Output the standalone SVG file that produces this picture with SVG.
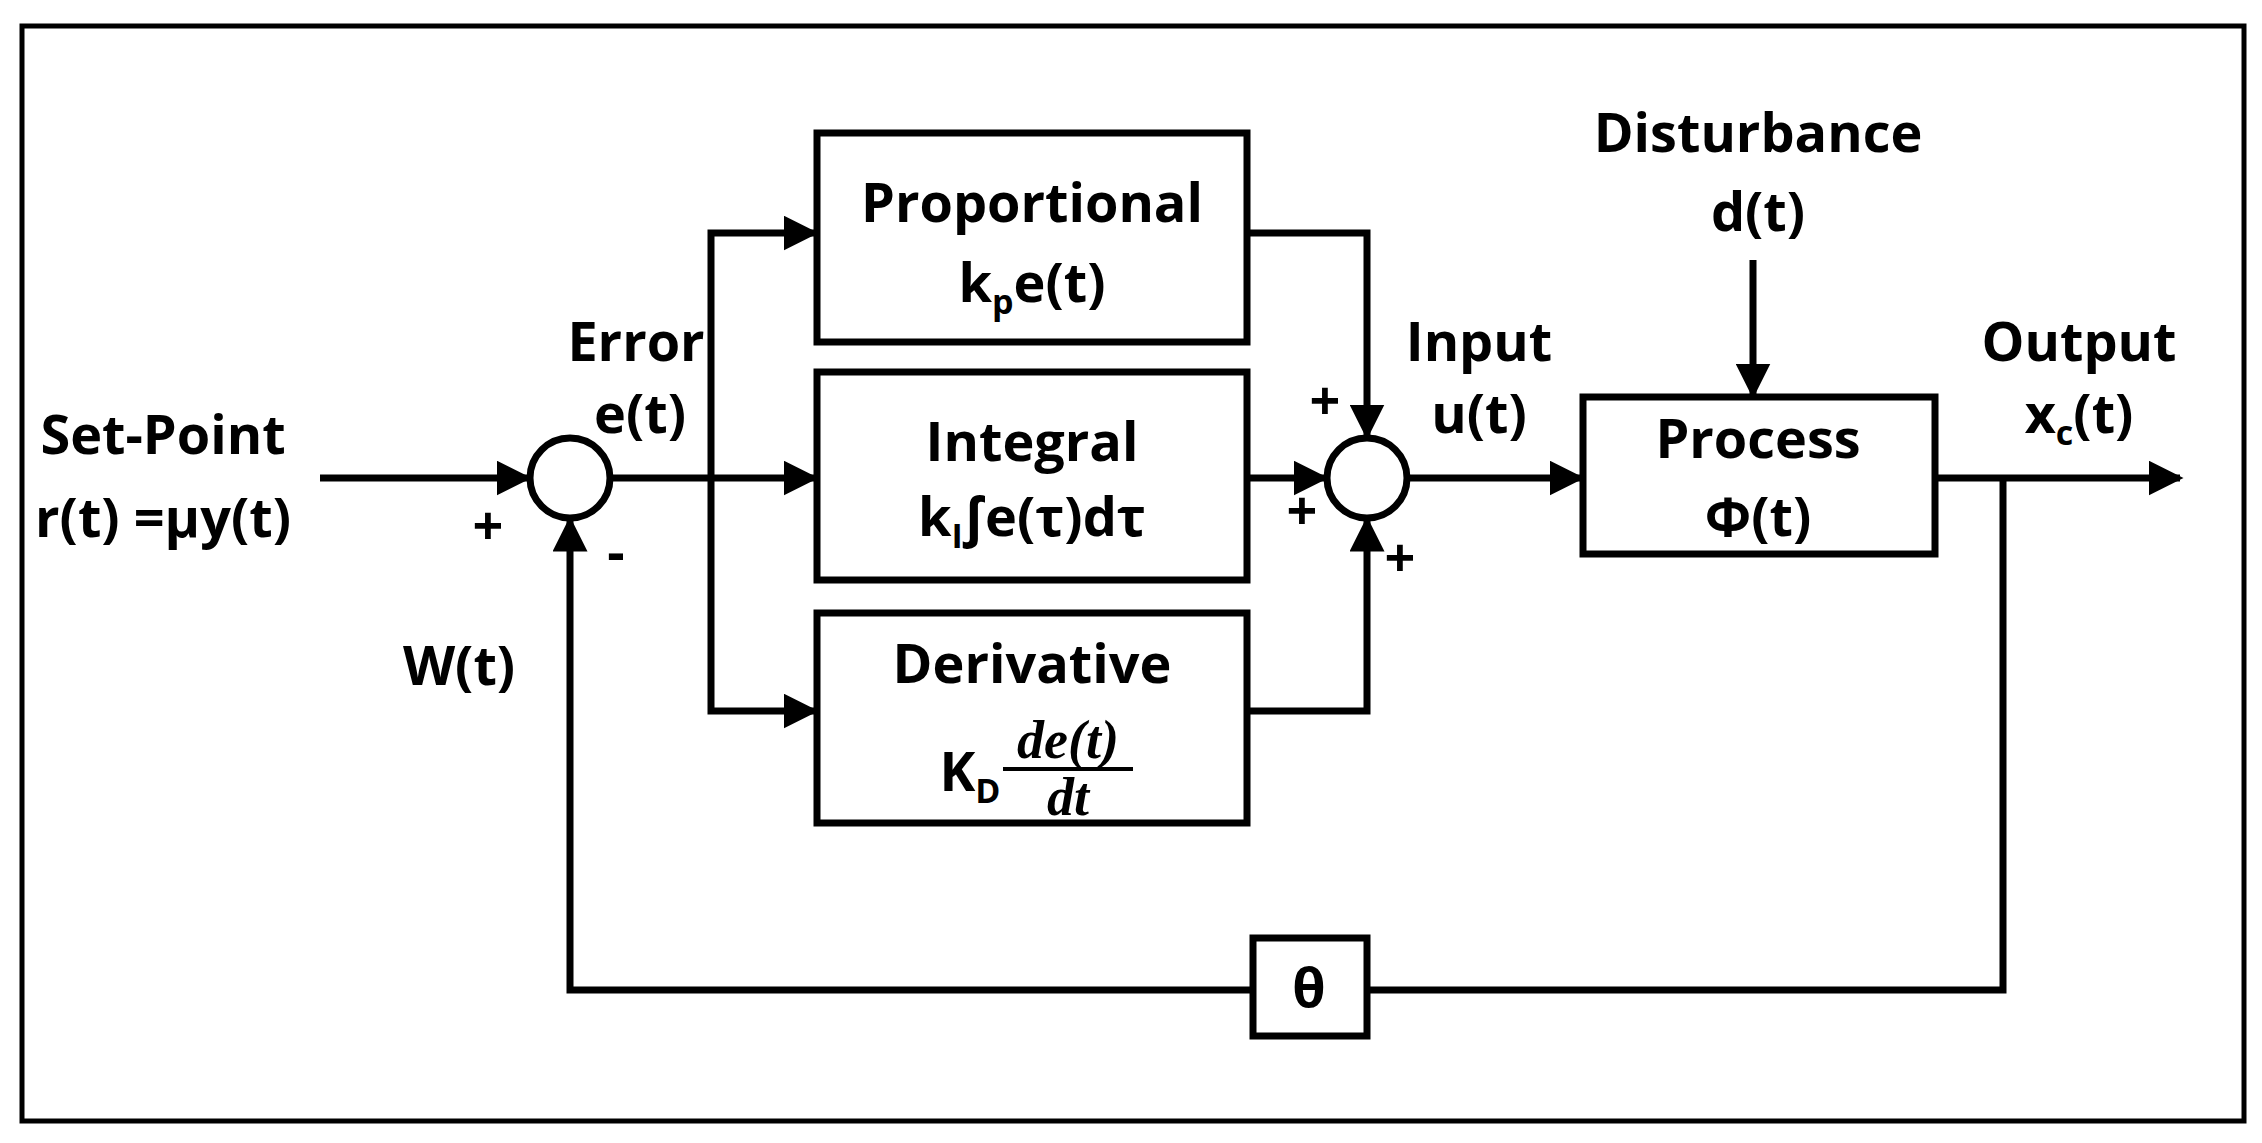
<svg xmlns="http://www.w3.org/2000/svg" width="2262" height="1143" viewBox="0 0 2262 1143">
<style>
.b{fill:#fff;stroke:#000;stroke-width:7}
.l{fill:none;stroke:#000;stroke-width:7}
text{font-family:"Open Sans","Liberation Sans",sans-serif;font-weight:bold;font-size:54px;text-anchor:middle;fill:#000}
.m{font-family:"Liberation Serif",serif;font-style:italic}
</style>
<defs><marker id="a" markerWidth="5" markerHeight="5" refX="4.5" refY="2.5" orient="auto" markerUnits="strokeWidth" viewBox="0 0 5 5"><path d="M0,0L5,2.5L0,5z" fill="#000"/></marker></defs>
<rect x="22" y="26" width="2222" height="1095" fill="#fff" stroke="#000" stroke-width="5"/>
<g id="connectors">
<path class="l" d="M320,478H528" marker-end="url(#a)"/>
<path class="l" d="M610,478H815" marker-end="url(#a)"/>
<path class="l" d="M711,478V233H815" marker-end="url(#a)"/>
<path class="l" d="M711,478V711H815" marker-end="url(#a)"/>
<path class="l" d="M1247,233H1367V436" marker-end="url(#a)"/>
<path class="l" d="M1247,478H1325" marker-end="url(#a)"/>
<path class="l" d="M1247,711H1367V520" marker-end="url(#a)"/>
<path class="l" d="M1407,478H1581" marker-end="url(#a)"/>
<path class="l" d="M1753,260V395" marker-end="url(#a)"/>
<path class="l" d="M1935,478H2180" marker-end="url(#a)"/>
<path class="l" d="M2003,478V990H1367"/>
<path class="l" d="M1253,990H570V520" marker-end="url(#a)"/>
</g>
<g id="sum1"><circle class="b" cx="570" cy="478" r="40"/></g>
<g id="sum2"><circle class="b" cx="1367" cy="478" r="40"/></g>
<g id="proportional"><rect class="b" x="817" y="133" width="430" height="209"/>
<text x="1032" y="222">Proportional</text><text x="1032" y="302">k<tspan font-size="34" dy="12">p</tspan><tspan dy="-12">e(t)</tspan></text></g>
<g id="integral"><rect class="b" x="817" y="372" width="430" height="208"/>
<text x="1032" y="461">Integral</text><text x="1032" y="536">k<tspan font-size="34" dy="12">I</tspan><tspan dy="-12">∫e(τ)dτ</tspan></text></g>
<g id="derivative"><rect class="b" x="817" y="613" width="430" height="210"/>
<text x="1032" y="683">Derivative</text>
<text x="970" y="791">K<tspan font-size="34" dy="12">D</tspan></text>
<text class="m" x="1068" y="758" font-size="50">de(t)</text>
<line x1="1003" y1="769" x2="1133" y2="769" stroke="#000" stroke-width="4"/>
<text class="m" x="1068" y="815" font-size="50">dt</text></g>
<g id="process"><rect class="b" x="1583" y="397" width="352" height="157"/>
<text x="1758" y="458">Process</text><text x="1758" y="536">Φ(t)</text></g>
<g id="theta"><rect class="b" x="1253" y="938" width="114" height="98"/><text x="1309" y="1007">θ</text></g>
<g id="labels">
<text x="163" y="454">Set-Point</text><text x="163" y="537">r(t) =μy(t)</text>
<text x="636" y="361">Error</text><text x="640" y="433">e(t)</text>
<text x="459" y="685">W(t)</text>
<text x="1479" y="361">Input</text><text x="1479" y="433">u(t)</text>
<text x="1758" y="152">Disturbance</text><text x="1758" y="231">d(t)</text>
<text x="2079" y="361">Output</text><text x="2079" y="433">x<tspan font-size="34" dy="12">c</tspan><tspan dy="-12">(t)</tspan></text>
<text x="488" y="545">+</text><text x="616" y="571">-</text>
<text x="1325" y="420">+</text><text x="1302" y="530">+</text><text x="1400" y="577">+</text>
</g>
</svg>
